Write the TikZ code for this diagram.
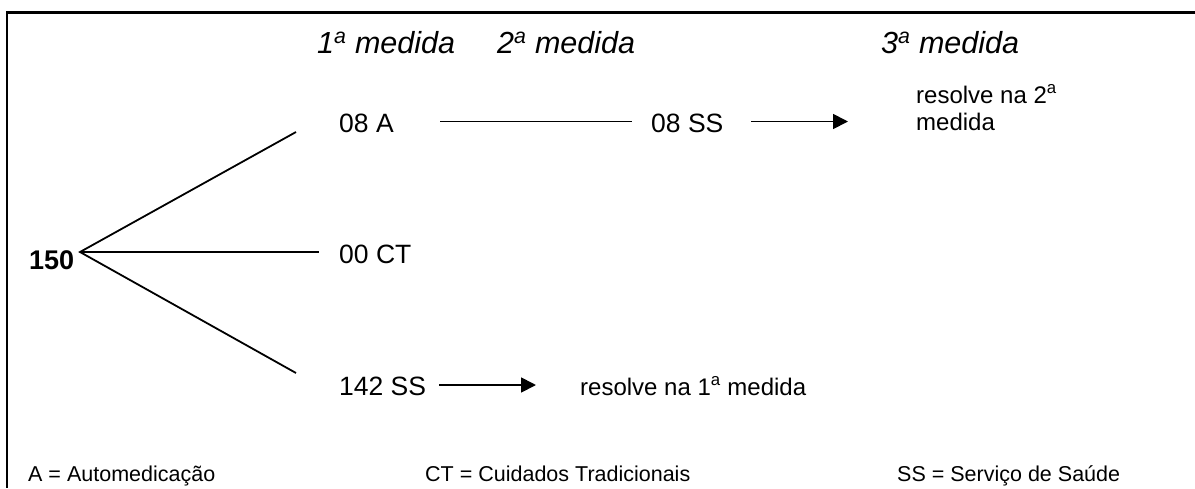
\documentclass[tikz,border=0pt]{standalone}
\usepackage{fontspec}
\setmainfont{Liberation Sans}
\usetikzlibrary{arrows.meta}
\newcommand{\ord}[1]{#1\textsuperscript{a}}
\begin{document}
\begin{tikzpicture}[x=1pt,y=-1pt,
  txt/.style={anchor=base west,inner sep=0pt,font=\fontsize{26.5}{30}\selectfont},
  head/.style={anchor=base west,inner sep=0pt,font=\fontsize{30.5}{34}\selectfont\itshape},
  note/.style={anchor=base west,inner sep=0pt,font=\fontsize{24}{27}\selectfont,align=left},
  legend/.style={anchor=base west,inner sep=0pt,font=\fontsize{21.5}{25}\selectfont},
  branch/.style={line width=1.8pt},
  arr/.style={line width=1.8pt,-{Triangle[length=15pt,width=15pt]}},
  frame/.style={line width=2.2pt}]
\useasboundingbox (0,0) rectangle (1195,488);

% open frame: top and left edges only
\coordinate (fTL) at (7,12.5);
\coordinate (fTR) at (1195,12.5);
\coordinate (fBL) at (7,488);
\draw[frame] (fTR) -- (fTL) -- (fBL);

% column headings
\node[head] (h1) at (317,53) {\ord{1} medida};
\node[head] (h2) at (497,53) {\ord{2} medida};
\node[head] (h3) at (881,53) {\ord{3} medida};

% total and the three branches
\node[anchor=base west,inner sep=0pt,font=\fontsize{27}{30}\selectfont\bfseries] (total) at (29,269) {150};
\coordinate (apex) at (80,252);
\coordinate (bA) at (296,132);
\coordinate (bCT) at (319,252);
\coordinate (bSS) at (296,373);
\draw[branch] (bA) -- (apex) -- (bSS);
\draw[branch] (apex) -- (bCT);

\node[txt] (a08) at (339,132) {08 A};
\node[txt] (ct00) at (339,263) {00 CT};
\node[txt] (ss142) at (339,395) {142 SS};

% automedication path
\coordinate (lA1) at (440,121.5);
\coordinate (lA2) at (632,121.5);
\draw[branch] (lA1) -- (lA2);
\node[txt] (ss08) at (651,132) {08 SS};
\coordinate (rA1) at (751,121.5);
\coordinate (rA2) at (848,121.5);
\draw[arr] (rA1) -- (rA2);
\node[note] (res2) at (916,130) {resolve na \ord{2}\\medida};

% health service path
\coordinate (rS1) at (439,385);
\coordinate (rS2) at (536,385);
\draw[arr] (rS1) -- (rS2);
\node[note] (res1) at (580,395) {resolve na \ord{1} medida};

% legend
\node[legend] (legA) at (28,481) {A = Automedicação};
\node[legend] (legCT) at (425,481) {CT = Cuidados Tradicionais};
\node[legend] (legSS) at (897,481) {SS = Serviço de Saúde};
\end{tikzpicture}
\end{document}
